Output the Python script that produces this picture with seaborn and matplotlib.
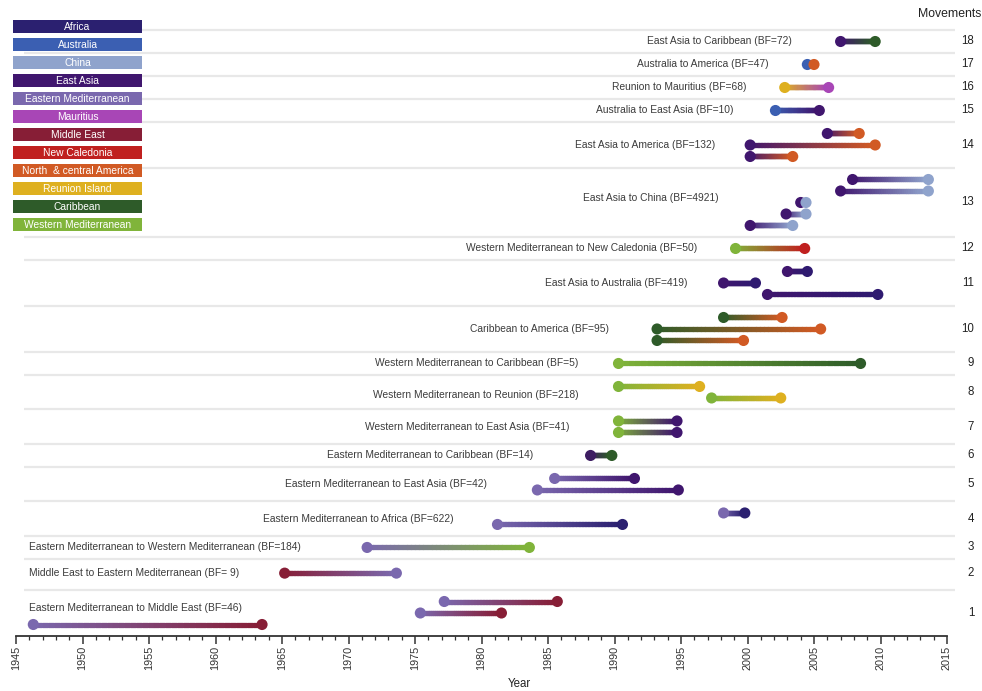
import numpy as np
import pandas as pd
import seaborn as sns
import matplotlib
matplotlib.use("Agg")
import matplotlib.pyplot as plt
from matplotlib.collections import LineCollection
from matplotlib.colors import to_rgb
from matplotlib.patches import Rectangle
from matplotlib.ticker import FixedLocator

# ---------------------------------------------------------------- data
regions = ["Africa", "Australia", "China", "East Asia", "Eastern Mediterranean",
           "Mauritius", "Middle East", "New Caledonia", "North  & central America",
           "Reunion Island", "Caribbean", "Western Mediterranean"]
region_colors = ["#2b2070", "#3b5fb2", "#8fa3cc", "#40166e", "#7a68ae",
                 "#a846b6", "#871e36", "#c0201f", "#d15a24",
                 "#deb020", "#2e5b29", "#80b43a"]

movement_ids = [18, 17, 16, 15, 14, 13, 12, 11, 10, 9, 8, 7, 6, 5, 4, 3, 2, 1]
movement_labels = [
    "East Asia to Caribbean (BF=72)",
    "Australia to America (BF=47)",
    "Reunion to Mauritius (BF=68)",
    "Australia to East Asia (BF=10)",
    "East Asia to America (BF=132)",
    "East Asia to China (BF=4921)",
    "Western Mediterranean to New Caledonia (BF=50)",
    "East Asia to Australia (BF=419)",
    "Caribbean to America (BF=95)",
    "Western Mediterranean to Caribbean (BF=5)",
    "Western Mediterranean to Reunion (BF=218)",
    "Western Mediterranean to East Asia (BF=41)",
    "Eastern Mediterranean to Caribbean (BF=14)",
    "Eastern Mediterranean to East Asia (BF=42)",
    "Eastern Mediterranean to Africa (BF=622)",
    "Eastern Mediterranean to Western Mediterranean (BF=184)",
    "Middle East to Eastern Mediterranean (BF= 9)",
    "Eastern Mediterranean to Middle East (BF=46)",
]
origin = ["East Asia", "Australia", "Reunion Island", "Australia", "East Asia",
          "East Asia", "Western Mediterranean", "East Asia", "Caribbean",
          "Western Mediterranean", "Western Mediterranean", "Western Mediterranean",
          "Eastern Mediterranean", "Eastern Mediterranean", "Eastern Mediterranean",
          "Eastern Mediterranean", "Middle East", "Eastern Mediterranean"]
destination = ["Caribbean", "North  & central America", "Mauritius", "East Asia",
               "North  & central America", "China", "New Caledonia", "Australia",
               "North  & central America", "Caribbean", "Reunion Island", "East Asia",
               "Caribbean", "East Asia", "Africa", "Western Mediterranean",
               "Eastern Mediterranean", "Middle East"]

# start / end year of each transition, top track first
start_years = [
    [2007.0],
    [2004.5],
    [2002.8],
    [2002.1],
    [2006.0, 2000.2, 2000.2],
    [2007.9, 2007.0, 2004.0, 2002.9, 2000.2],
    [1999.1],
    [2003.0, 1998.2, 2001.5],
    [1998.2, 1993.2, 1993.2],
    [1990.3],
    [1990.3, 1997.3],
    [1990.3, 1990.3],
    [1988.2],
    [1985.5, 1984.2],
    [1998.2, 1981.2],
    [1971.4],
    [1965.2],
    [1977.2, 1975.4, 1946.3],
]
end_years = [
    [2009.6],
    [2005.0],
    [2006.1],
    [2005.4],
    [2008.4, 2009.6, 2003.4],
    [2013.6, 2013.6, 2004.4, 2004.4, 2003.4],
    [2004.3],
    [2004.5, 2000.6, 2009.8],
    [2002.6, 2005.5, 1999.7],
    [2008.5],
    [1996.4, 2002.5],
    [1994.7, 1994.7],
    [1989.8],
    [1991.5, 1994.8],
    [1999.8, 1990.6],
    [1983.6],
    [1973.6],
    [1985.7, 1981.5, 1963.5],
]

# ---------------------------------------------------------------- layout
# label anchor (year units): right edge for most rows, left edge for the last three
label_anchor = [2003.3, 2001.6, 1999.95, 1998.95, 1997.55, 1997.85, 1996.2, 1995.5,
                1989.6, 1987.3, 1987.3, 1986.6, 1983.9, 1980.4, 1977.9,
                1946.0, 1946.0, 1946.0]
label_align = ["right"] * 15 + ["left"] * 3
# extra row padding (lanes) and vertical label nudges (lanes)
row_extra = {2: 0.7}
label_nudge = {13: -0.35, 1: -0.45, 8: 0.2}

# colour tweaks for a couple of endpoints
start_colour_override = {6: "#3d1d62"}
end_colour_override = {11: "#2f1a70"}

W, H = 982, 691
PX_PER_YEAR = 13.3
YEAR0_PX = 16          # pixel of 1945
AXIS_BOTTOM_PX = 636
TOP_LINE_PX = 30

palette = dict(zip(regions, region_colors))

sns.set_theme(style="white")
plt.rcParams["font.family"] = ["Liberation Sans", "DejaVu Sans"]

fig = plt.figure(figsize=(W / 100, H / 100), dpi=100)
fig.patch.set_facecolor("white")
ax = fig.add_axes([0, 1 - AXIS_BOTTOM_PX / H, 1, AXIS_BOTTOM_PX / H])

x_left = 1945 - YEAR0_PX / PX_PER_YEAR
x_right = x_left + W / PX_PER_YEAR
ax.set_xlim(x_left, x_right)

n_tracks = [len(s) for s in start_years]
row_heights = [n + 1 + row_extra.get(m, 0) for n, m in zip(n_tracks, movement_ids)]
total_lanes = sum(row_heights)
lane_px = (AXIS_BOTTOM_PX - TOP_LINE_PX) / total_lanes
ax.set_ylim(total_lanes, -TOP_LINE_PX / lane_px)

# rows, separators, labels
row_tops = np.cumsum([0] + row_heights[:-1])
ax.hlines(row_tops, 1945.6, 2015.6, color="#e8e8e8", lw=1.6, zorder=1)

line_segments, line_colours = [], []
dots = []
for i, (mid, lab) in enumerate(zip(movement_ids, movement_labels)):
    top = row_tops[i] + row_extra.get(mid, 0) / 3
    c0 = start_colour_override.get(mid, palette[origin[i]])
    c1 = end_colour_override.get(mid, palette[destination[i]])
    r0, r1 = np.array(to_rgb(c0)), np.array(to_rgb(c1))
    for k, (s, e) in enumerate(zip(start_years[i], end_years[i])):
        y = top + k + 1
        xs = np.linspace(s, e, 40)
        pts = np.column_stack([xs, np.full_like(xs, y)])
        for j in range(len(xs) - 1):
            line_segments.append(pts[j:j + 2])
            t = (j + 0.5) / (len(xs) - 1)
            line_colours.append(tuple(r0 * (1 - t) + r1 * t))
        dots.append({"year": s, "lane": y, "colour": c0, "order": 0})
        dots.append({"year": e, "lane": y, "colour": c1, "order": 1})
    mid_y = top + (n_tracks[i] + 1) / 2
    ax.text(label_anchor[i], mid_y + label_nudge.get(mid, 0), lab,
            ha=label_align[i], va="center", fontsize=7.4, color="#3c3c3c", zorder=5)
    ax.text(2017.05, mid_y, str(mid), ha="right", va="center",
            fontsize=8.3, color="#222222", zorder=5)

lc = LineCollection(line_segments, colors=line_colours, linewidths=3.7,
                    capstyle="projecting", zorder=3)
ax.add_collection(lc)

dot_df = pd.DataFrame(dots).sort_values("order", kind="stable")
sns.scatterplot(data=dot_df, x="year", y="lane", hue="colour",
                palette={c: c for c in dot_df["colour"].unique()},
                s=64, linewidth=0, legend=False, ax=ax, zorder=4)

# x axis
for side in ["left", "right", "top"]:
    ax.spines[side].set_visible(False)
ax.spines["bottom"].set_bounds(1945, 2015)
ax.spines["bottom"].set_color("#333333")
ax.spines["bottom"].set_linewidth(1.3)
ax.set_xticks(np.arange(1945, 2016, 5))
ax.xaxis.set_minor_locator(FixedLocator(np.arange(1945, 2016, 1)))
ax.tick_params(axis="x", which="major", direction="out", length=6, width=1.1,
               color="#333333", labelsize=7.8, labelcolor="#333333",
               labelrotation=90, pad=1, bottom=True)
ax.tick_params(axis="x", which="minor", direction="out", length=3.2, width=0.9,
               color="#333333", bottom=True)
ax.set_yticks([])
ax.set_xlabel("")
ax.set_ylabel("")
ax.grid(False)

fig.text(519 / W, 1 - 684 / H, "Year", ha="center", va="center",
         fontsize=8.3, color="#222222")
fig.text(981 / W, 1 - 14 / H, "Movements", ha="right", va="center",
         fontsize=8.8, color="#222222")

# colour key boxes
for i, (name, col) in enumerate(zip(regions, region_colors)):
    top_px = 20 + 18 * i
    fig.add_artist(Rectangle((13 / W, 1 - (top_px + 13) / H), 129 / W, 13 / H,
                             transform=fig.transFigure, facecolor=col,
                             edgecolor="none", zorder=6))
    fig.text(77.5 / W, 1 - (top_px + 6.8) / H, name, ha="center", va="center",
             fontsize=7.4, color="white", zorder=7)

fig.savefig("out.png", dpi=100, facecolor="white")
